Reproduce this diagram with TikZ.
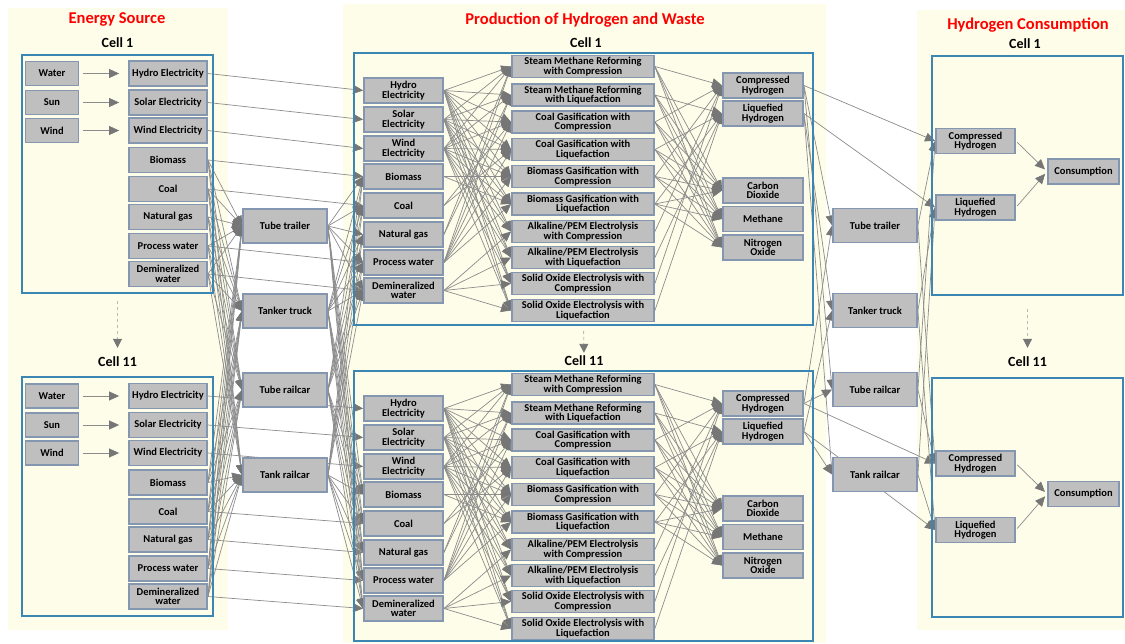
\documentclass[tikz,border=0pt]{standalone}
\usepackage{fontspec}
\setmainfont{Carlito}
\usetikzlibrary{arrows.meta,positioning}
\definecolor{panelyellow}{HTML}{FDFDEA}
\definecolor{cellblue}{HTML}{3C86B4}
\definecolor{boxgray}{HTML}{BFBFBF}
\definecolor{rimgray}{HTML}{8496B0}
\definecolor{linkgray}{HTML}{8C8C8C}
\definecolor{tipgray}{HTML}{767676}
\definecolor{titlered}{HTML}{FF0000}
\pgfdeclarelayer{panels}
\pgfdeclarelayer{links}
\pgfsetlayers{panels,links,main}

\begin{document}
\begin{tikzpicture}[x=1pt,y=-1pt,font=\bfseries\fontsize{10.5}{9.5}\selectfont,
  unit/.style={draw=rimgray,line width=1.8pt,fill=boxgray,align=center,
    inner sep=0pt,minimum height=25pt},
  srcbox/.style={unit,minimum width=53pt,minimum height=24pt},
  resbox/.style={unit,minimum width=78pt},
  inbox/.style={unit,minimum width=79pt},
  procbox/.style={unit,minimum width=142pt,minimum height=22pt},
  outbox/.style={unit,minimum width=80pt},
  movebox/.style={unit,minimum width=84pt,minimum height=34pt},
  cell/.style={draw=cellblue,line width=1.6pt,inner sep=0pt},
  heading/.style={font=\bfseries\fontsize{16.5}{18}\selectfont,text=titlered},
  cellname/.style={font=\bfseries\fontsize{14}{16}\selectfont,inner sep=1pt},
  arr/.style={-{Triangle[length=10pt,width=9pt,color=tipgray]},draw=linkgray,
    line width=0.7pt},
  hop/.style={-{Triangle[length=9pt,width=9pt,color=tipgray]},draw=linkgray!60,
    dashed,line width=0.8pt}]

  \useasboundingbox (0,0) rectangle (1125,643);
  \begin{pgfonlayer}{panels}
    \fill[white] (0,0) rectangle (1125,643);
    \fill[panelyellow] (8,8) rectangle (228,630);
    \fill[panelyellow] (343,4) rectangle (826,643);
    \fill[panelyellow] (917,10) rectangle (1125,630);
  \end{pgfonlayer}

  % headings and cell frames
  \node[heading] (ltitle) at (117,19) {Energy Source};
  \node[heading] (mtitle) at (585,20) {Production of Hydrogen and Waste};
  \node[heading] (rtitle) at (1028,25) {Hydrogen Consumption};
  \node[cellname] (lheada) at (117.5,43) {Cell 1};
  \node[cellname] (lheadb) at (117.5,362) {Cell 11};
  \node[cellname] (mheada) at (586,43) {Cell 1};
  \node[cellname] (mheadb) at (584,361) {Cell 11};
  \node[cellname] (rheada) at (1025,44) {Cell 1};
  \node[cellname] (rheadb) at (1027.5,362) {Cell 11};
  \node[cell,minimum width=191pt,minimum height=238pt] (lcella) at (117.5,174) {};
  \node[cell,minimum width=191pt,minimum height=239pt] (lcellb) at (117.5,496.5) {};
  \node[cell,minimum width=459pt,minimum height=272pt] (mcella) at (583.5,189) {};
  \node[cell,minimum width=459pt,minimum height=270pt] (mcellb) at (583.5,506) {};
  \node[cell,minimum width=191pt,minimum height=239pt] (rcella) at (1027.5,175.5) {};
  \node[cell,minimum width=191pt,minimum height=239pt] (rcellb) at (1027.5,497.5) {};

  % energy source cells
  \foreach \cl/\dy in {a/0,b/322.5} {
    \node[srcbox] (l\cl-water) at (52,73.5+\dy) {Water};
    \node[srcbox] (l\cl-sun) at (52,102.5+\dy) {Sun};
    \node[srcbox] (l\cl-wind) at (52,130.5+\dy) {Wind};
    \foreach \nm/\yy/\tx in {hydro/73.5/Hydro Electricity,solar/102.5/Solar Electricity,
        windel/130.5/Wind Electricity,biomass/160/Biomass,coal/189/Coal,
        gas/217/Natural gas,pwater/246/Process water,demin/274/{Demineralized\\water}}
      \node[resbox] (l\cl-\nm) at (168,\yy+\dy) {\tx};
  }

  % production cells
  \foreach \cl/\dy in {a/0,b/318} {
    \foreach \nm/\yy/\tx in {hydro/90.5/{Hydro\\Electricity},solar/119.5/{Solar\\Electricity},
        windel/148.5/{Wind\\Electricity},biomass/176.5/Biomass,coal/205.5/Coal,
        gas/234.5/Natural gas,pwater/262.5/Process water,demin/290.5/{Demineralized\\water}}
      \node[inbox] (m\cl-\nm) at (403.5,\yy+\dy) {\tx};
    \foreach \ix/\yy/\tx in {1/66.5/{Steam Methane Reforming\\with Compression},
        2/95/{Steam Methane Reforming\\with Liquefaction},
        3/122/{Coal Gasification with\\Compression},
        4/149.5/{Coal Gasification with\\Liquefaction},
        5/176.5/{Biomass Gasification with\\Compression},
        6/204/{Biomass Gasification with\\Liquefaction},
        7/231.5/{Alkaline/PEM Electrolysis\\with Compression},
        8/257.5/{Alkaline/PEM Electrolysis\\with Liquefaction},
        9/283.5/{Solid Oxide Electrolysis with\\Compression},
        10/310.5/{Solid Oxide Electrolysis with\\Liquefaction}}
      \node[procbox] (m\cl-p\ix) at (583,\yy+\dy) {\tx};
    \foreach \nm/\yy/\tx in {ch/85.5/{Compressed\\Hydrogen},lh/113.5/{Liquefied\\Hydrogen},
        co2/190.5/{Carbon\\Dioxide},ch4/219/Methane,nox/247.5/{Nitrogen\\Oxide}}
      \node[outbox] (m\cl-\nm) at (763,\yy+\dy) {\tx};
  }

  % consumption cells
  \foreach \cl/\dy in {a/0,b/322.5} {
    \node[outbox,minimum width=79pt] (r\cl-ch) at (975.5,141+\dy) {Compressed\\Hydrogen};
    \node[outbox,minimum width=79pt] (r\cl-lh) at (975.5,207.5+\dy) {Liquefied\\Hydrogen};
    \node[unit,minimum width=71pt] (r\cl-use) at (1083.5,171.5+\dy) {Consumption};
  }

  % transport
  \foreach \nm/\yy/\tx in {trailer/226/Tube trailer,truck/311/Tanker truck,
      tuberail/390/Tube railcar,tankrail/475/Tank railcar} {
    \node[movebox] (lt-\nm) at (285,\yy) {\tx};
    \node[movebox] (rt-\nm) at (875,\yy-0.5) {\tx};
  }

  \begin{pgfonlayer}{links}
    \draw[hop,shorten <=7pt,shorten >=8pt] (lcella.south) -- (lheadb.north);
    \draw[hop,shorten <=5pt,shorten >=2pt] (mcella.south) -- (mheadb.north);
    \draw[hop,shorten <=13pt,shorten >=8pt] (rcella.south) -- (rheadb.north);

    \foreach \cl in {a,b} {
      \draw[arr,shorten <=4pt,shorten >=9pt] (l\cl-water) -- (l\cl-hydro);
      \draw[arr,shorten <=4pt,shorten >=9pt] (l\cl-sun) -- (l\cl-solar);
      \draw[arr,shorten <=4pt,shorten >=9pt] (l\cl-wind) -- (l\cl-windel);
    }
    \foreach \nm in {hydro,solar,windel,biomass,coal,pwater,demin}
      \draw[arr] (la-\nm.east) -- (ma-\nm.west);
    \foreach \nm in {hydro,solar,windel,coal,gas,pwater,demin}
      \draw[arr] (lb-\nm.east) -- (mb-\nm.west);

    % by road and rail
    \foreach \cl in {a,b}
      \foreach \nm in {biomass,coal,gas,pwater,demin}
        \foreach \mv in {trailer,truck,tuberail,tankrail} {
          \draw[arr] (l\cl-\nm.east) -- (lt-\mv.west);
          \draw[arr] (lt-\mv.east) -- (m\cl-\nm.west);
        }

    \foreach \cl in {a,b} {
      \foreach \nm in {hydro,solar,windel}
        \foreach \ix in {1,...,10}
          \draw[arr] (m\cl-\nm.east) -- (m\cl-p\ix.west);
      \foreach \nm/\ix in {gas/1,gas/2,coal/3,coal/4,biomass/5,biomass/6,
          pwater/1,pwater/2,pwater/3,pwater/4,pwater/5,pwater/6,
          demin/7,demin/8,demin/9,demin/10}
        \draw[arr] (m\cl-\nm.east) -- (m\cl-p\ix.west);
      \foreach \ix in {1,3,5,7,9}
        \draw[arr] (m\cl-p\ix.east) -- (m\cl-ch.west);
      \foreach \ix in {2,4,6,8,10}
        \draw[arr] (m\cl-p\ix.east) -- (m\cl-lh.west);
      \foreach \ix in {1,...,6}
        \foreach \ws in {co2,ch4,nox}
          \draw[arr] (m\cl-p\ix.east) -- (m\cl-\ws.west);

      \draw[arr] (m\cl-ch.east) -- (r\cl-ch.west);
      \draw[arr] (m\cl-lh.east) -- (r\cl-lh.west);
      \foreach \mv in {trailer,tuberail} {
        \draw[arr] (m\cl-ch.east) -- (rt-\mv.west);
        \draw[arr] (rt-\mv.east) -- (r\cl-ch.west);
      }
      \foreach \mv in {truck,tankrail} {
        \draw[arr] (m\cl-lh.east) -- (rt-\mv.west);
        \draw[arr] (rt-\mv.east) -- (r\cl-lh.west);
      }
      \draw[arr,shorten <=2pt,shorten >=3pt] (r\cl-ch.east) -- (r\cl-use.west);
      \draw[arr,shorten <=2pt,shorten >=3pt] (r\cl-lh.east) -- (r\cl-use.west);
    }
  \end{pgfonlayer}
\end{tikzpicture}
\end{document}
